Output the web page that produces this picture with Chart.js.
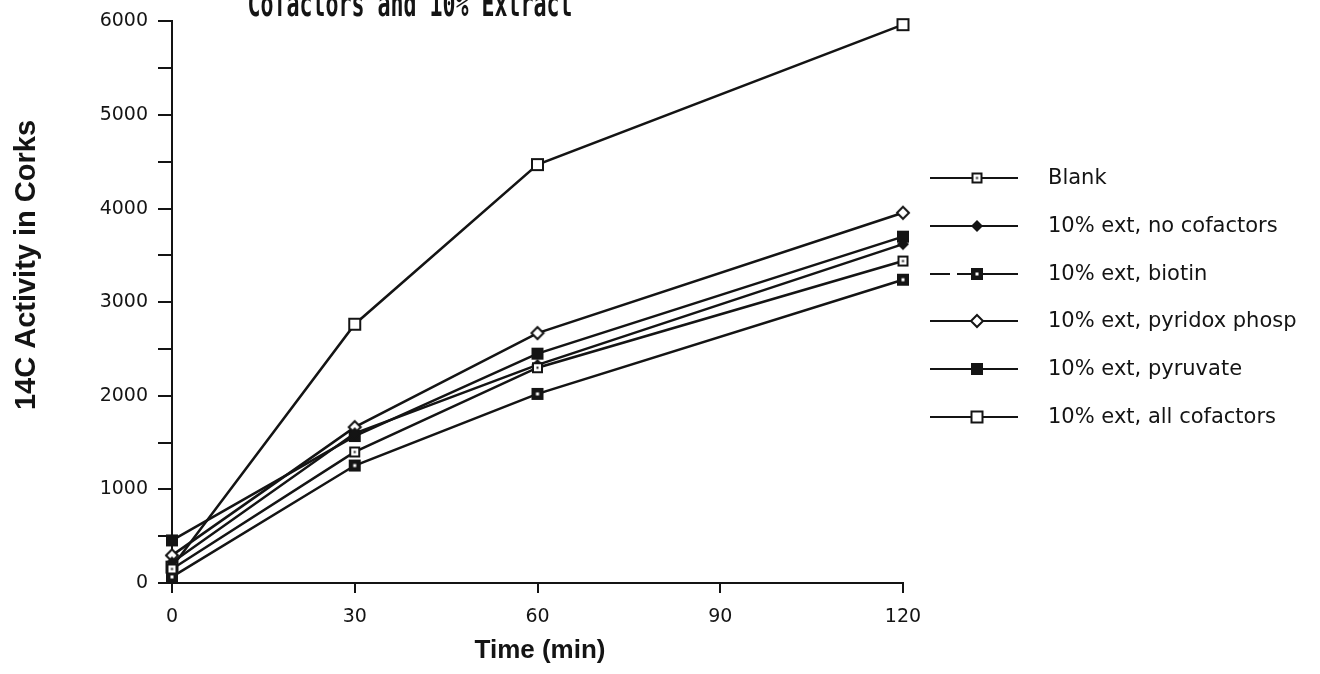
<!DOCTYPE html>
<html>
<head>
<meta charset="utf-8">
<script src="https://cdn.jsdelivr.net/npm/chart.js@4"></script>
<style>
  html, body { margin: 0; padding: 0; background: #fff; }
  #wrap { width: 1320px; height: 674px; }
</style>
</head>
<body>
<div id="wrap"><canvas id="corks" width="1320" height="674"></canvas></div>
<script>
// time points (min)
const times = [0, 30, 60, 120];
const xTicks = [0, 30, 60, 90, 120];

// 14C activity per treatment
const blank        = [150, 1400, 2300, 3440];
const noCofactors  = [220, 1600, 2330, 3620];
const biotin       = [65, 1255, 2020, 3240];
const pyridoxPhosp = [295, 1665, 2670, 3955];
const pyruvate     = [455, 1570, 2450, 3700];
const allCofactors = [170, 2765, 4470, 5965];

const seriesLabels = [
    'Blank',
    '10% ext, no cofactors',
    '10% ext, biotin',
    '10% ext, pyridox phosp',
    '10% ext, pyruvate',
    '10% ext, all cofactors'
];

const ink = '#141414';

// little canvases used as point styles
function makeMarker(kind, size) {
    let c = document.createElement('canvas');
    let s = size + 4;
    c.width = s; c.height = s;
    let g = c.getContext('2d');
    let m = s / 2, h = size / 2;
    g.lineWidth = 2;
    g.strokeStyle = ink;
    g.fillStyle = ink;
    if (kind === 'diamond' || kind === 'diamondOpen') {
        g.beginPath();
        g.moveTo(m, m - h); g.lineTo(m + h, m); g.lineTo(m, m + h); g.lineTo(m - h, m);
        g.closePath();
        if (kind === 'diamond') { g.fill(); }
        else { g.fillStyle = '#fff'; g.fill(); g.stroke(); }
    } else if (kind === 'square') {
        g.fillRect(m - h, m - h, size, size);
    } else if (kind === 'biotin') {
        g.fillRect(m - h, m - h, size, size);
        g.fillStyle = '#fff';
        g.fillRect(m - 1.5, m - 1.5, 3, 3);
    } else {
        g.fillStyle = '#fff';
        g.fillRect(m - h + 1, m - h + 1, size - 2, size - 2);
        g.strokeRect(m - h + 1, m - h + 1, size - 2, size - 2);
        if (kind === 'dotSquare') {
            g.fillStyle = ink;
            g.fillRect(m - 1, m - 1, 2, 2);
        }
    }
    return c;
}

const markers = [
    makeMarker('dotSquare', 11),
    makeMarker('diamond', 12),
    makeMarker('biotin', 12),
    makeMarker('diamondOpen', 12),
    makeMarker('square', 12),
    makeMarker('openSquare', 13)
];

const seriesValues = [blank, noCofactors, biotin, pyridoxPhosp, pyruvate, allCofactors];

// extra text: clipped title, axis titles, legend with line-through markers
const annotations = {
    id: 'annotations',
    afterDraw(chart) {
        let ctx = chart.ctx;
        ctx.save();
        ctx.fillStyle = ink;

        // title, mostly cut off at the top of the page
        ctx.save();
        ctx.font = 'bold 36px "DejaVu Sans Mono"';
        ctx.textAlign = 'center';
        ctx.textBaseline = 'alphabetic';
        ctx.translate(410, 16);
        ctx.scale(0.6, 1);
        ctx.fillText('Cofactors and 10% Extract', 0, 0);
        ctx.restore();

        ctx.font = 'bold 26px "Liberation Sans"';
        ctx.textAlign = 'center';
        ctx.textBaseline = 'middle';
        ctx.fillText('Time (min)', 540, 651);

        ctx.save();
        ctx.translate(27, 265);
        ctx.rotate(-Math.PI / 2);
        ctx.font = 'bold 29px "Liberation Sans"';
        ctx.fillText('14C Activity in Corks', 0, 0);
        ctx.restore();

        // legend
        ctx.strokeStyle = ink;
        ctx.lineWidth = 2;
        ctx.font = '21px "DejaVu Sans"';
        ctx.textAlign = 'left';
        chart.data.datasets.forEach((ds, i) => {
            let y = Math.round(178 + i * 47.8);
            ctx.beginPath();
            if (i === 2) {
                ctx.moveTo(930, y); ctx.lineTo(950, y);
                ctx.moveTo(957, y); ctx.lineTo(1018, y);
            } else {
                ctx.moveTo(930, y); ctx.lineTo(1018, y);
            }
            ctx.stroke();
            let mk = ds.pointStyle;
            ctx.drawImage(mk, 977 - mk.width / 2, y - mk.height / 2);
            ctx.fillText(ds.label, 1048, y + 1);
        });
        ctx.restore();
    }
};

let ctx = document.getElementById('corks').getContext('2d');
let corksChart = new Chart(ctx, {
    type: 'line',
    data: {
        datasets: seriesLabels.map((label, i) => {
            return {
                label: label,
                data: times.map((t, j) => ({ x: t, y: seriesValues[i][j] })),
                borderColor: ink,
                backgroundColor: ink,
                borderWidth: 2.5,
                pointStyle: markers[i],
                pointRadius: 6,
                fill: false,
                clip: false,
                tension: 0
            }
        })
    },
    options: {
        responsive: false,
        animation: false,
        layout: {
            padding: { left: 0, right: 417, top: 19, bottom: 0 }
        },
        scales: {
            x: {
                type: 'linear',
                min: 0,
                max: 120,
                afterBuildTicks: scale => { scale.ticks = xTicks.map(v => ({ value: v })); },
                afterFit: scale => { scale.height = 91; },
                ticks: {
                    color: ink,
                    padding: 13,
                    font: { family: 'DejaVu Sans', size: 19 }
                },
                grid: {
                    drawOnChartArea: false,
                    drawTicks: true,
                    tickLength: 10,
                    color: ink,
                    lineWidth: 2
                },
                border: { display: true, color: ink, width: 2 }
            },
            y: {
                min: 0,
                max: 6000,
                afterFit: scale => { scale.width = 172; },
                ticks: {
                    stepSize: 500,
                    color: ink,
                    padding: 10,
                    font: { family: 'DejaVu Sans', size: 19 },
                    callback: v => (v % 1000 === 0 ? v : '')
                },
                grid: {
                    drawOnChartArea: false,
                    drawTicks: true,
                    tickLength: 14,
                    color: ink,
                    lineWidth: 2
                },
                border: { display: true, color: ink, width: 2 }
            }
        },
        plugins: {
            legend: { display: false },
            title: { display: false },
            tooltip: { enabled: false }
        }
    },
    plugins: [annotations]
});
</script>
</body>
</html>
